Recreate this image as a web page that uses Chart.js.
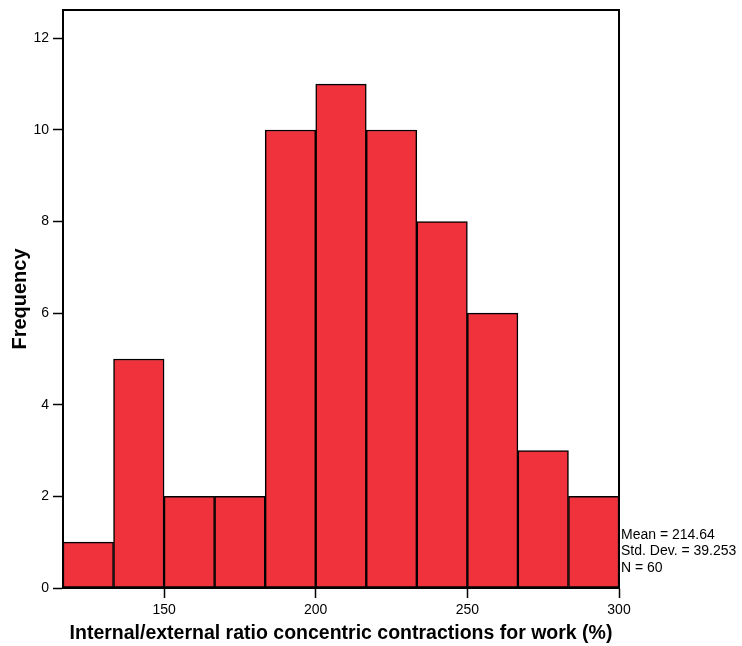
<!DOCTYPE html>
<html>
<head>
<meta charset="utf-8">
<script src="https://cdn.jsdelivr.net/npm/chart.js@4/dist/chart.umd.min.js"></script>
<style>
  html, body { margin: 0; padding: 0; background: #fff; }
  #wrap { width: 742px; height: 646px; }
</style>
</head>
<body>
<div id="wrap"><canvas id="c" width="742" height="646"></canvas></div>
<script>
// ---- data ----
const binCenters = [125, 141.667, 158.333, 175, 191.667, 208.333, 225, 241.667, 258.333, 275, 291.667];
const frequencies = [1, 5, 2, 2, 10, 11, 10, 8, 6, 3, 2];
const xTicks = [150, 200, 250, 300];
const yTicks = [0, 2, 4, 6, 8, 10, 12];
const xRange = [116.667, 300];
const yRange = [0, 12.62];
const statsLines = ['Mean = 214.64', 'Std. Dev. = 39.253', 'N = 60'];
const xTitle = 'Internal/external ratio concentric contractions for work (%)';
const yTitle = 'Frequency';

const FONT = '"Liberation Sans", Arial, sans-serif';

const framePlugin = {
  id: 'frame',
  afterDraw(chart) {
    const { ctx, chartArea: a } = chart;
    ctx.save();
    ctx.strokeStyle = '#000';
    ctx.lineWidth = 2;
    ctx.strokeRect(a.left, a.top, a.right - a.left, a.bottom - a.top);
    ctx.fillStyle = '#000';
    ctx.font = '14px ' + FONT;
    ctx.textAlign = 'left';
    ctx.textBaseline = 'middle';
    const lh = 16.5;
    statsLines.forEach((s, i) => {
      ctx.fillText(s, a.right + 2, a.bottom - 53 + i * lh);
    });
    ctx.restore();
  }
};

new Chart(document.getElementById('c'), {
  type: 'bar',
  data: {
    datasets: [{
      data: binCenters.map((x, i) => ({ x: x, y: frequencies[i] })),
      backgroundColor: '#ef323c',
      borderColor: '#000',
      borderWidth: 1.5,
      borderSkipped: false,
      barPercentage: 1,
      categoryPercentage: 1
    }]
  },
  options: {
    responsive: false,
    animation: false,
    devicePixelRatio: 1,
    layout: { padding: { top: 10, right: 123, left: 0, bottom: 0 } },
    plugins: { legend: { display: false }, tooltip: { enabled: false } },
    scales: {
      x: {
        type: 'linear',
        offset: false,
        min: xRange[0],
        max: xRange[1],
        afterBuildTicks: s => { s.ticks = xTicks.map(v => ({ value: v })); },
        afterFit: s => { s.height = 58; },
        grid: { offset: false, drawOnChartArea: false, color: '#000', tickLength: 10, tickWidth: 1.5 },
        border: { color: '#000', width: 2 },
        ticks: { color: '#000', font: { family: FONT, size: 14 }, padding: 4, maxRotation: 0 },
        title: { display: true, text: xTitle, color: '#000', font: { family: FONT, size: 19.5, weight: 'bold' }, padding: { top: 0, bottom: 1 } }
      },
      y: {
        min: yRange[0],
        max: yRange[1],
        afterBuildTicks: s => { s.ticks = yTicks.map(v => ({ value: v })); },
        afterFit: s => { s.width = 63; s.paddingTop = 0; s.paddingBottom = 0; },
        grid: { drawOnChartArea: false, color: '#000', tickLength: 10, tickWidth: 1.5 },
        border: { color: '#000', width: 2 },
        ticks: { color: '#000', font: { family: FONT, size: 14 }, padding: 4 },
        title: { display: true, text: yTitle, color: '#000', font: { family: FONT, size: 20, weight: 'bold' }, padding: { top: 8, bottom: 0 } }
      }
    }
  },
  plugins: [framePlugin]
});
</script>
</body>
</html>
